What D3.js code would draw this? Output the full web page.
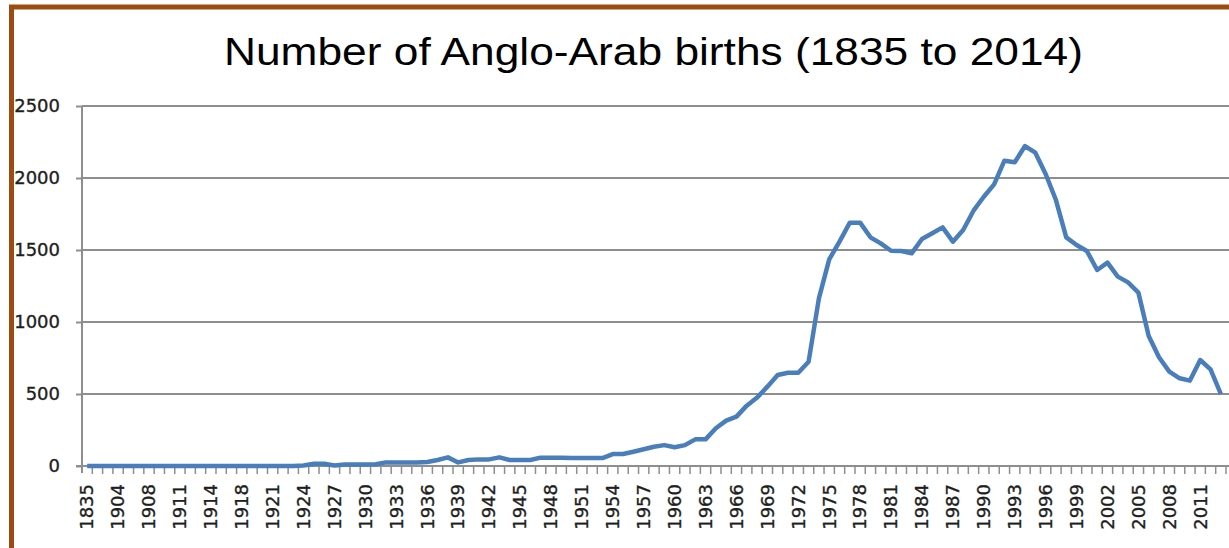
<!DOCTYPE html>
<html>
<head>
<meta charset="utf-8">
<script src="https://cdn.jsdelivr.net/npm/d3@7"></script>
<style>
  body { margin: 0; background: #fff; }
  text { font-family: "Liberation Sans", Arial, sans-serif; fill: #1e1e1e; }
  .lbl { font-family: "DejaVu Sans", Verdana, sans-serif; font-size: 18px; stroke: #1e1e1e; stroke-width: 0.35px; }
</style>
</head>
<body>
<div id="myPlot"></div>
<script>
// Set Dimensions
const width = 1229;
const height = 548;
const plotLeft = 82, plotRight = 1226, plotTop = 106, plotBottom = 466;

// Data
const years = [
  1835, 1880, 1900, 1904, 1905, 1906, 1908, 1909, 1910, 1911, 1912, 1913, 1914, 1915, 1916,
  1918, 1919, 1920, 1921, 1922, 1923, 1924, 1925, 1926, 1927, 1928, 1929, 1930, 1931, 1932,
  1933, 1934, 1935, 1936, 1937, 1938, 1939, 1940, 1941, 1942, 1943, 1944, 1945, 1946, 1947,
  1948, 1949, 1950, 1951, 1952, 1953, 1954, 1955, 1956, 1957, 1958, 1959, 1960, 1961, 1962,
  1963, 1964, 1965, 1966, 1967, 1968, 1969, 1970, 1971, 1972, 1973, 1974, 1975, 1976, 1977,
  1978, 1979, 1980, 1981, 1982, 1983, 1984, 1985, 1986, 1987, 1988, 1989, 1990, 1991, 1992,
  1993, 1994, 1995, 1996, 1997, 1998, 1999, 2000, 2001, 2002, 2003, 2004, 2005, 2006, 2007,
  2008, 2009, 2010, 2011, 2012, 2013
];

const births = [
  0, 0, 0, 0, 0, 0, 0, 0, 0, 0, 0, 0, 0, 0, 0,
  0, 0, 0, 0, 0, 0, 3, 15, 15, 3, 10, 10, 10, 12, 25,
  25, 25, 25, 28, 42, 60, 25, 42, 46, 46, 60, 42, 42, 42, 58,
  58, 58, 55, 55, 55, 55, 83, 83, 99, 116, 134, 145, 130, 145, 185,
  185, 262, 315, 343, 419, 475, 551, 632, 648, 648, 724, 1164, 1435, 1558, 1690,
  1690, 1588, 1546, 1495, 1493, 1477, 1576, 1616, 1657, 1558, 1639, 1773, 1870, 1956, 2120,
  2109, 2222, 2176, 2028, 1847, 1588, 1535, 1493, 1361, 1412, 1315, 1275, 1204, 903, 755,
  655, 609, 593, 736, 671, 500
];

const yTicks = [0, 500, 1000, 1500, 2000, 2500];
const title = "Number of Anglo-Arab births (1835 to 2014)";

const svg = d3.select("#myPlot")
  .append("svg")
  .attr("width", width)
  .attr("height", height);

svg.append("rect")
  .attr("width", width)
  .attr("height", height)
  .attr("fill", "#fff");

// brown frame
svg.append("rect")
  .attr("x", 11.5)
  .attr("y", 7)
  .attr("width", width + 20)
  .attr("height", height + 20)
  .attr("fill", "none")
  .attr("stroke", "#9c4c10")
  .attr("stroke-width", 5);

// title
svg.append("text")
  .attr("x", 224)
  .attr("y", 65)
  .attr("textLength", 859)
  .attr("lengthAdjust", "spacingAndGlyphs")
  .style("font-size", "38px")
  .style("fill", "#000")
  .text(title);

// Scales
const x = d3.scaleBand()
  .domain(years)
  .range([plotLeft, plotRight]);

const y = d3.scaleLinear()
  .domain([0, 2500])
  .range([plotBottom, plotTop]);

// gridlines
svg.append("g")
  .selectAll("line")
  .data(yTicks.filter(d => d > 0))
  .join("line")
  .attr("x1", plotLeft)
  .attr("x2", width)
  .attr("y1", d => y(d))
  .attr("y2", d => y(d))
  .attr("stroke", "#8e8e8e")
  .attr("stroke-width", 2);

// Y Axis
const yAxis = svg.append("g")
  .attr("transform", `translate(${plotLeft},0)`)
  .call(d3.axisLeft(y).tickValues(yTicks).tickFormat(d3.format("d")).tickSize(6).tickPadding(16));
yAxis.attr("font-size", null).attr("font-family", null);
yAxis.select(".domain").remove();
yAxis.selectAll(".tick line").attr("stroke", "#8e8e8e").attr("stroke-width", 2);
yAxis.selectAll("text")
  .attr("class", "lbl")
  .attr("fill", "#1e1e1e");

svg.append("line")
  .attr("x1", plotLeft).attr("x2", plotLeft)
  .attr("y1", plotTop).attr("y2", plotBottom + 7)
  .attr("stroke", "#8e8e8e")
  .attr("stroke-width", 2);

// X Axis
const xg = svg.append("g");
xg.append("line")
  .attr("x1", plotLeft - 6).attr("x2", width)
  .attr("y1", plotBottom).attr("y2", plotBottom)
  .attr("stroke", "#8e8e8e")
  .attr("stroke-width", 2);

xg.selectAll(".tick")
  .data(years.slice(1))
  .join("line")
  .attr("class", "tick")
  .attr("x1", d => x(d))
  .attr("x2", d => x(d))
  .attr("y1", plotBottom)
  .attr("y2", plotBottom + 8)
  .attr("stroke", "#8e8e8e")
  .attr("stroke-width", 1.5);

xg.append("line")
  .attr("x1", plotRight).attr("x2", plotRight)
  .attr("y1", plotBottom).attr("y2", plotBottom + 8)
  .attr("stroke", "#8e8e8e")
  .attr("stroke-width", 1.5);

xg.selectAll(".xlabel")
  .data(years.filter((d, i) => i % 3 === 0))
  .join("text")
  .attr("class", "xlabel lbl")
  .attr("transform", d => `translate(${x(d) + x.bandwidth() / 2},484) rotate(-90)`)
  .attr("dy", "0.35em")
  .style("text-anchor", "end")
  .text(d => d);

// Line
const line = d3.line()
  .x((d, i) => x(years[i]) + x.bandwidth() / 2)
  .y(d => y(d));

svg.append("path")
  .datum(births)
  .attr("d", line)
  .attr("fill", "none")
  .attr("stroke", "#4a7ebb")
  .attr("stroke-width", 4.5)
  .attr("stroke-linejoin", "round");
</script>
</body>
</html>
